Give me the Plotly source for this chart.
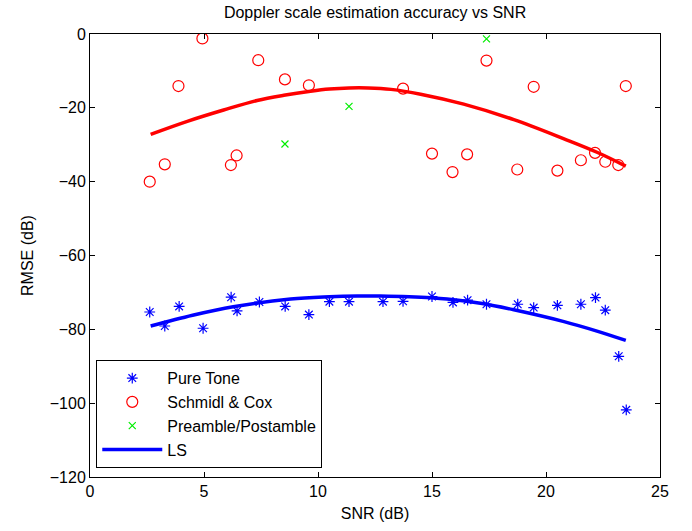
import plotly.graph_objects as go

# Pure Tone
pt_x = [2.62, 3.28, 3.91, 4.96, 6.19, 6.45, 7.43, 8.56, 9.6, 10.5, 11.36, 12.85, 13.73,
        15.0, 15.92, 16.56, 17.39, 18.76, 19.46, 20.5, 21.53, 22.17, 22.6, 23.19, 23.52]
pt_y = [-75.3, -79.1, -73.8, -79.7, -71.3, -75.0, -72.6, -73.8, -76.0, -72.5, -72.5, -72.5, -72.4,
        -71.1, -72.7, -72.1, -73.2, -73.2, -74.1, -73.5, -73.2, -71.4, -74.8, -87.3, -101.8]

# Schmidl & Cox
sc_x = [2.62, 3.28, 3.88, 4.93, 6.18, 6.43, 7.38, 8.55, 9.6, 13.73, 15.0, 15.9, 16.54,
        17.39, 18.74, 19.46, 20.5, 21.53, 22.15, 22.6, 23.17, 23.5]
sc_y = [-40.0, -35.3, -14.1, -1.2, -35.5, -32.9, -7.1, -12.3, -13.9, -14.8, -32.4, -37.4, -32.6,
        -7.2, -36.7, -14.3, -37.0, -34.2, -32.2, -34.6, -35.5, -14.1]

# Preamble/Postamble
pp_x = [8.55, 11.36, 17.39]
pp_y = [-29.8, -19.6, -1.3]

# LS fits
ls_red_x = [2.66, 4.3, 5.86, 7.33, 8.5, 9.67, 10.5, 11.36, 12.2, 13.2, 14.5, 16.39, 18.59, 20.79, 22.26, 23.5]
ls_red_y = [-27.2, -23.6, -20.6, -18.0, -16.6, -15.5, -14.9, -14.6, -14.6, -15.0, -16.3, -19.0, -23.2, -28.4, -32.1, -35.8]
ls_blue_x = [2.66, 4.5, 6.28, 8.8, 10.5, 11.73, 12.73, 14.0, 15.66, 17.2, 18.59, 20.79, 22.2, 23.5]
ls_blue_y = [-79.1, -76.2, -73.9, -71.8, -71.2, -71.0, -71.0, -71.2, -71.8, -73.0, -74.7, -77.9, -80.4, -83.0]

x_ticks = [0, 5, 10, 15, 20, 25]
y_ticks = [0, -20, -40, -60, -80, -100, -120]

FONT = "Liberation Sans, Arial, sans-serif"

fig = go.Figure()
fig.add_trace(go.Scatter(x=pt_x, y=pt_y, mode="markers", name="Pure Tone",
                         marker=dict(symbol="asterisk-open", size=9, color="blue",
                                     line=dict(width=1.2, color="blue"))))
fig.add_trace(go.Scatter(x=sc_x, y=sc_y, mode="markers", name="Schmidl & Cox",
                         marker=dict(symbol="circle-open", size=11, color="red",
                                     line=dict(width=1.2, color="red"))))
fig.add_trace(go.Scatter(x=pp_x, y=pp_y, mode="markers", name="Preamble/Postamble",
                         marker=dict(symbol="x-thin-open", size=7, color="#00ee00",
                                     line=dict(width=1.2, color="#00ee00"))))
fig.add_trace(go.Scatter(x=ls_blue_x, y=ls_blue_y, mode="lines", name="LS",
                         line=dict(color="blue", width=3.5, shape="spline", smoothing=1.0)))
fig.add_trace(go.Scatter(x=ls_red_x, y=ls_red_y, mode="lines", name="LS fit SC",
                         showlegend=False,
                         line=dict(color="red", width=3.5, shape="spline", smoothing=1.0)))

axis_common = dict(showline=True, linecolor="black", linewidth=1, mirror="allticks",
                   ticks="inside", ticklen=5, tickcolor="black", showgrid=False,
                   zeroline=False, tickfont=dict(family=FONT, size=16, color="black"))

fig.update_layout(
    width=692, height=531,
    margin=dict(l=90, r=32, t=34, b=50),
    paper_bgcolor="white", plot_bgcolor="white",
    font=dict(family=FONT, size=16, color="black"),
    title=dict(text="Doppler scale estimation accuracy vs SNR", x=0.542, xanchor="center",
               y=0.977, yanchor="middle", font=dict(family=FONT, size=16, color="black")),
    xaxis=dict(range=[0, 25], tickvals=x_ticks,
               title=dict(text="SNR (dB)", standoff=8, font=dict(family=FONT, size=16)),
               **axis_common),
    yaxis=dict(range=[-120, 0], tickvals=y_ticks,
               title=dict(text="RMSE (dB)", standoff=12, font=dict(family=FONT, size=16)),
               **axis_common),
    legend=dict(x=0.011, y=0.02, xanchor="left", yanchor="bottom",
                bordercolor="black", borderwidth=1, bgcolor="white",
                font=dict(family=FONT, size=16), tracegroupgap=0, itemwidth=60),
)

fig.write_html("out.html")
